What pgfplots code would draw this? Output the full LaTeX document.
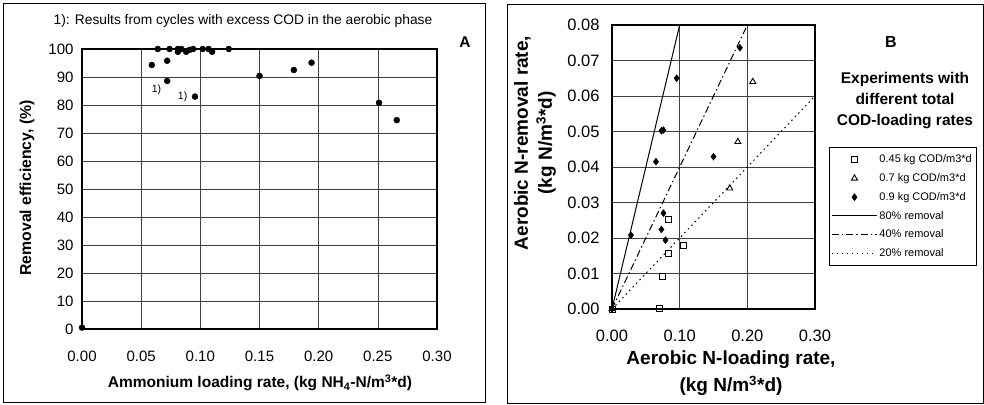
\documentclass[border=0pt]{standalone}
\usepackage{fontspec}
\setmainfont{Liberation Sans}
\usepackage{pgfplots}
\pgfplotsset{compat=1.18}

\pgfplotsset{
  panel/.style={
    scale only axis, anchor=south west, clip=false,
    axis line style={line width=1.4pt},
    xmajorgrids=true, ymajorgrids=true,
    major grid style={black!75, line width=0.6pt},
    major tick length=0.5pt,
    /pgf/number format/assume math mode=true,
    scaled ticks=false,
  },
  lineleg/.style={legend image code/.code={\draw[##1] (0pt,0pt) -- (45pt,0pt);}},
  markleg/.style={legend image code/.code={\draw[##1] plot coordinates {(22.5pt,0pt)};}},
}

\begin{document}
\begin{tikzpicture}
\path[use as bounding box] (0pt,0pt) rectangle (984pt,404pt);
\draw[line width=1pt] (3pt,2pt) rectangle (485pt,400pt);
\draw[line width=1pt] (507pt,1pt) rectangle (983pt,399pt);

% panel A
\begin{axis}[panel, at={(82pt,75pt)}, width=355pt, height=280pt,
  xmin=0, xmax=0.3, ymin=0, ymax=100,
  xtick={0,0.05,0.1,0.15,0.2,0.25,0.3},
  ytick={0,10,20,30,40,50,60,70,80,90,100},
  tick label style={font=\fontsize{15}{16}\selectfont},
  xticklabel style={yshift=-18pt, /pgf/number format/.cd, fixed, fixed zerofill, precision=2},
  yticklabel style={xshift=-5pt},
  ]
\addplot[only marks, mark=*, mark size=3pt] coordinates {
  (0.000,0.5)
  (0.059,94.3)(0.064,100)(0.072,95.8)(0.072,88.6)(0.074,100)
  (0.081,100)(0.081,99)(0.084,100)(0.088,99)(0.091,99.7)(0.094,100)
  (0.0955,83)(0.102,100)(0.107,100)(0.110,99)(0.124,100)
  (0.150,90.4)(0.179,92.5)(0.194,95.1)(0.251,80.8)(0.266,74.6)
};
\node[font=\fontsize{10.5}{12}\selectfont] at (axis cs:0.063,85.4) {1)};
\node[font=\fontsize{10.5}{12}\selectfont] at (axis cs:0.085,82.9) {1)};
\end{axis}

\node[font=\fontsize{13.8}{15}\selectfont] at (243pt,383pt)
  {1): Results from cycles with excess COD in the aerobic phase};
\node[font=\fontsize{15.5}{17}\selectfont\bfseries] at (465pt,362pt) {A};
\node[font=\fontsize{15.8}{17}\selectfont\bfseries, rotate=90] at (27pt,216pt)
  {Removal efficiency, (\%)};
\node[font=\fontsize{15.5}{17}\selectfont\bfseries] at (260pt,21pt)
  {Ammonium loading rate, (kg NH\textsubscript{4}-N/m\textsuperscript{3}*d)};

% panel B
\begin{axis}[panel, at={(612pt,95pt)}, width=203pt, height=284pt,
  xmin=0, xmax=0.3, ymin=0, ymax=0.08,
  xtick={0,0.1,0.2,0.3},
  ytick={0,0.01,0.02,0.03,0.04,0.05,0.06,0.07,0.08},
  tick label style={font=\fontsize{16.5}{18}\selectfont},
  xticklabel style={yshift=-17pt, /pgf/number format/.cd, fixed, fixed zerofill, precision=2},
  yticklabel style={xshift=-9pt, /pgf/number format/.cd, fixed, fixed zerofill, precision=2},
  legend style={at={(1.07,0.570)}, anchor=north west, draw=black, line width=0.5pt,
    font=\fontsize{11}{12}\selectfont, cells={anchor=west}, row sep=5.3pt,
    inner xsep=2pt, inner ysep=5.5pt},
  ]
\addplot[markleg, only marks, mark=square, mark size=3pt, line width=0.9pt] coordinates {
  (0,0)(0.084,0.0253)(0.105,0.0178)(0.084,0.0157)(0.075,0.0093)(0.070,0.0002)
};
\addplot[markleg, only marks, mark=triangle, mark size=3.5pt, line width=0.9pt] coordinates {
  (0,0)(0.208,0.064)(0.186,0.0471)(0.174,0.034)
};
\addplot[markleg, only marks, mark=diamond*, mark size=3.5pt] coordinates {
  (0,0)(0.189,0.0736)(0.0956,0.065)(0.076,0.0504)(0.073,0.0502)(0.065,0.0415)
  (0.150,0.0429)(0.028,0.0208)(0.076,0.027)(0.073,0.0224)(0.079,0.0194)
};
\addplot[lineleg, black, line width=1pt] coordinates {(0,0)(0.1,0.08)};
\addplot[lineleg, black, line width=1pt, dash pattern=on 7pt off 3pt on 1.5pt off 3pt] coordinates {(0,0)(0.2,0.08)};
\addplot[lineleg, black, line width=1pt, dash pattern=on 1.5pt off 3.5pt] coordinates {(0,0)(0.3,0.06)};
\legend{0.45 kg COD/m3*d, 0.7 kg COD/m3*d, 0.9 kg COD/m3*d, 80\% removal, 40\% removal, 20\% removal}
\end{axis}

\node[font=\fontsize{16}{18}\selectfont\bfseries] at (891pt,362pt) {B};
\node[font=\fontsize{15.5}{21}\selectfont\bfseries, align=center] at (905pt,303pt)
  {Experiments with\\different total\\COD-loading rates};
\node[font=\fontsize{19}{24}\selectfont\bfseries, rotate=90, align=center] at (535pt,261pt)
  {Aerobic N-removal rate,\\(kg N/m\textsuperscript{3}*d)};
\node[font=\fontsize{19}{27}\selectfont\bfseries, align=center] at (731pt,31pt)
  {Aerobic N-loading rate,\\(kg N/m\textsuperscript{3}*d)};
\end{tikzpicture}
\end{document}
